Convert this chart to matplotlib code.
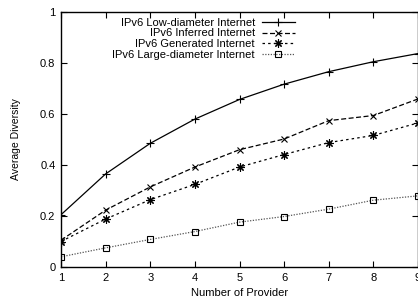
import numpy as np
import matplotlib.pyplot as plt

plt.rcParams['font.family'] = ['Liberation Sans', 'DejaVu Sans']

providers = [1, 2, 3, 4, 5, 6, 7, 8, 9]
low_diameter = [0.205, 0.365, 0.485, 0.58, 0.657, 0.717, 0.766, 0.805, 0.837]
inferred = [0.105, 0.223, 0.314, 0.392, 0.46, 0.502, 0.574, 0.594, 0.659]
generated = [0.10, 0.188, 0.264, 0.324, 0.392, 0.441, 0.488, 0.516, 0.565]
large_diameter = [0.04, 0.075, 0.108, 0.139, 0.176, 0.198, 0.227, 0.262, 0.279]

fig = plt.figure(figsize=(4.18, 3.0), dpi=100)
ax = fig.add_axes([61 / 418, 33 / 300, 357 / 418, 255 / 300])

ax.plot(providers, low_diameter, color='black', lw=0.9, ls='-', marker='+',
        ms=6, mew=0.8, label='IPv6 Low-diameter Internet')
ax.plot(providers, inferred, color='black', lw=0.9, ls=(0, (4, 2)), marker='x',
        ms=5, mew=0.8, label='IPv6 Inferred Internet')
ax.plot(providers, generated, color='black', lw=0.9, ls=(0, (2, 2.5)), marker=(8, 2, 0),
        ms=6, mew=0.8, label='IPv6 Generated Internet')
ax.plot(providers, large_diameter, color='#555555', lw=0.9, ls=(0, (1, 1.2)), marker='s',
        ms=5, mew=0.8, mfc='none', mec='black', label='IPv6 Large-diameter Internet')

ax.set_xlim(1, 9)
ax.set_ylim(0, 1)
ax.set_xticks(providers)
ax.set_yticks([0, 0.2, 0.4, 0.6, 0.8, 1])
ax.set_yticklabels(['0', '0.2', '0.4', '0.6', '0.8', '1'])
ax.tick_params(direction='in', top=True, right=True, length=4, width=0.8,
               labelsize=8, pad=4)
for s in ax.spines.values():
    s.set_linewidth(1.0)

ax.set_xlabel('Number of Provider', fontsize=8, labelpad=4)
ax.set_ylabel('Average Diversity', fontsize=7.5, labelpad=14)

ax.legend(loc='upper right', bbox_to_anchor=(0.655, 0.978), frameon=False,
          markerfirst=False, fontsize=8, handlelength=3.0, handletextpad=0.6,
          labelspacing=0.08, borderpad=0, borderaxespad=0)

fig.savefig('out.png', dpi=100)
